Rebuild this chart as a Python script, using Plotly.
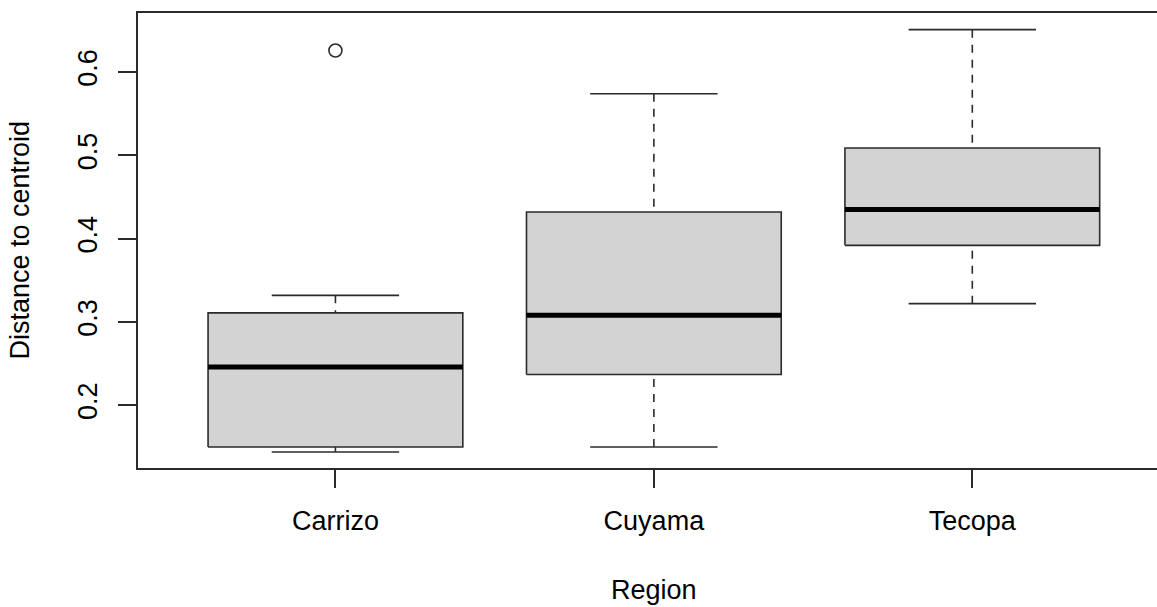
import plotly.graph_objects as go

# Summary statistics per region (whisker ends, hinges, median)
regions = ["Carrizo", "Cuyama", "Tecopa"]
lower_whisker = [0.144, 0.150, 0.322]
q1 = [0.150, 0.237, 0.392]
median = [0.246, 0.308, 0.435]
q3 = [0.311, 0.432, 0.509]
upper_whisker = [0.332, 0.574, 0.651]
# Outlying points: (region index, value)
outlier_region = [0]
outlier_value = [0.626]

y_ticks = [0.2, 0.3, 0.4, 0.5, 0.6]

BOX_HALF = 0.4      # box spans 0.8 category units
CAP_HALF = 0.2      # staple is half the box width
LINE = "#2b2b2b"
FILL = "#d3d3d3"
FONT = "Liberation Sans, Arial, Helvetica, sans-serif"

fig = go.Figure()

for i, name in enumerate(regions):
    # box body
    fig.add_trace(go.Scatter(
        x=[i - BOX_HALF, i + BOX_HALF, i + BOX_HALF, i - BOX_HALF, i - BOX_HALF],
        y=[q1[i], q1[i], q3[i], q3[i], q1[i]],
        mode="lines", fill="toself", fillcolor=FILL,
        line=dict(color=LINE, width=1.6), hoverinfo="skip", showlegend=False))
    # median bar
    fig.add_trace(go.Scatter(
        x=[i - BOX_HALF, i + BOX_HALF], y=[median[i], median[i]],
        mode="lines", line=dict(color="black", width=5),
        hoverinfo="skip", showlegend=False))
    # dashed whiskers, drawn from the whisker end toward the hinge
    for end, hinge in ((upper_whisker[i], q3[i]), (lower_whisker[i], q1[i])):
        fig.add_trace(go.Scatter(
            x=[i, i], y=[end, hinge], mode="lines",
            line=dict(color=LINE, width=1.6, dash="8px,7px"),
            hoverinfo="skip", showlegend=False))
        fig.add_trace(go.Scatter(
            x=[i - CAP_HALF, i + CAP_HALF], y=[end, end], mode="lines",
            line=dict(color=LINE, width=1.6),
            hoverinfo="skip", showlegend=False))

# outliers as open circles
fig.add_trace(go.Scatter(
    x=outlier_region, y=outlier_value, mode="markers",
    marker=dict(symbol="circle-open", size=13, color=LINE, line=dict(width=1.6)),
    hoverinfo="skip", showlegend=False))

fig.update_layout(
    width=1157, height=607,
    margin=dict(l=138, r=0, t=13, b=139, autoexpand=False),
    plot_bgcolor="white", paper_bgcolor="white",
    font=dict(family=FONT, size=27, color="black"),
    xaxis=dict(
        range=[-0.62, 2.58], tickmode="array", tickvals=list(range(len(regions))),
        ticktext=regions, showgrid=False, zeroline=False,
        showline=True, mirror=True, linecolor=LINE, linewidth=1.6,
        ticks="outside", ticklen=18, tickwidth=1.6, tickcolor=LINE,
        ticklabelstandoff=10,
        tickfont=dict(family=FONT, size=27, color="black")),
    yaxis=dict(
        range=[0.1247, 0.671], tickmode="array", tickvals=y_ticks,
        ticktext=[f"{v:.1f}" for v in y_ticks], tickangle=-90,
        showgrid=False, zeroline=False,
        showline=True, mirror=False, linecolor=LINE, linewidth=1.6,
        ticks="outside", ticklen=18, tickwidth=1.6, tickcolor=LINE,
        ticklabelstandoff=10,
        tickfont=dict(family=FONT, size=27, color="black")),
    annotations=[
        dict(text="Region", xref="x", yref="paper", x=1.0, y=0,
             xanchor="center", yanchor="middle", yshift=-122, showarrow=False,
             font=dict(family=FONT, size=27, color="black")),
        dict(text="Distance to centroid", xref="paper", yref="paper", x=0, y=0.5,
             xanchor="center", yanchor="middle", xshift=-119, textangle=-90,
             showarrow=False, font=dict(family=FONT, size=27, color="black")),
    ],
)

fig.write_html("out.html")
